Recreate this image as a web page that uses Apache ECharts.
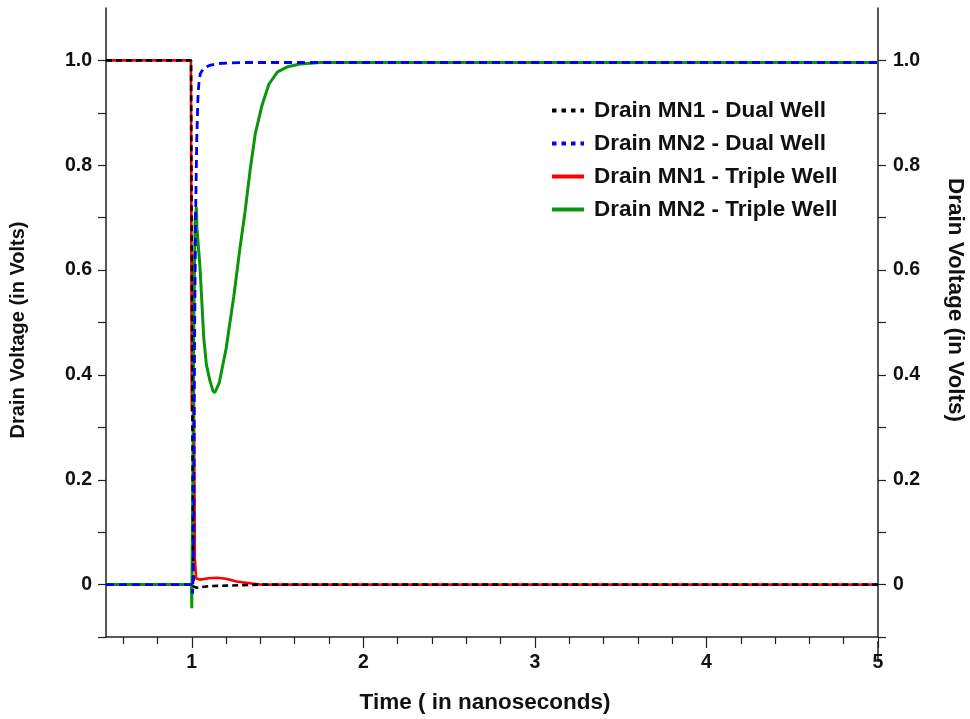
<!DOCTYPE html>
<html>
<head>
<meta charset="utf-8">
<title>Drain Voltage Transient</title>
<script src="https://cdn.jsdelivr.net/npm/echarts@6/dist/echarts.min.js"></script>
<style>
  html, body { margin: 0; padding: 0; background: #ffffff; }
  #chart { width: 970px; height: 719px; }
</style>
</head>
<body>
<div id="chart"></div>
<script>
// Transient drain voltages (time in ns, voltage in V)
const timeMN1Dual = [0.5, 0.996, 1.0, 1.008, 1.012, 1.03, 1.1, 1.2, 1.3, 1.4, 5.0];
const voltMN1Dual = [1.0, 1.0, 0.55, 0.03, -0.004, -0.006, -0.003, -0.002, -0.001, 0, 0];

const timeMN2Dual = [0.5, 0.998, 1.005, 1.012, 1.016, 1.022, 1.029, 1.036, 1.041, 1.05, 1.07, 1.1, 1.15, 1.3, 5.0];
const voltMN2Dual = [0, 0, -0.017, 0.1, 0.45, 0.7, 0.85, 0.93, 0.955, 0.975, 0.985, 0.99, 0.994, 0.996, 0.996];

const timeMN1Triple = [0.5, 0.995, 0.998, 1.0, 1.004, 1.008, 1.012, 1.018, 1.025, 1.047, 1.1, 1.146, 1.2, 1.26, 1.35, 1.4, 5.0];
const voltMN1Triple = [1.0, 1.0, 0.6, 0.33, 0.5, 0.63, 0.4, 0.05, 0.012, 0.0095, 0.012, 0.013, 0.011, 0.006, 0.002, 0, 0];

const timeMN2Triple = [0.5, 0.998, 1.0, 1.006, 1.012, 1.02, 1.027, 1.03, 1.047, 1.057, 1.07, 1.085, 1.105, 1.123, 1.134,
  1.16, 1.2, 1.245, 1.28, 1.31, 1.34, 1.37, 1.41, 1.45, 1.5, 1.56, 1.63, 1.75, 5.0];
const voltMN2Triple = [0, 0, -0.045, 0.2, 0.5, 0.7, 0.72, 0.68, 0.61, 0.55, 0.47, 0.42, 0.39, 0.37, 0.366,
  0.385, 0.45, 0.55, 0.64, 0.71, 0.79, 0.86, 0.915, 0.955, 0.978, 0.988, 0.993, 0.996, 0.996];

const seriesNames = ['Drain MN1 - Dual Well', 'Drain MN2 - Dual Well', 'Drain MN1 - Triple Well', 'Drain MN2 - Triple Well'];

// Axis ticks and labels
const xLabelValues = [1, 2, 3, 4, 5];
const xMajorTicks = [1, 2, 3, 4, 5];
const xMinorTicks = [0.6, 0.8, 1.2, 1.4, 1.6, 1.8, 2.2, 2.4, 2.6, 2.8, 3.2, 3.4, 3.6, 3.8, 4.2, 4.4, 4.6, 4.8];
const yLabelValues = [0, 0.2, 0.4, 0.6, 0.8, 1.0];
const yTickValues = [-0.1, 0, 0.1, 0.2, 0.3, 0.4, 0.5, 0.6, 0.7, 0.8, 0.9, 1.0];

const zip = (xs, ys) => xs.map((x, i) => [x, ys[i]]);

const FONT = '"Liberation Sans", Arial, sans-serif';
const AXIS_COLOR = '#222';
const TEXT_COLOR = '#111';

const yLabelFmt = v => (Math.abs(v) < 1e-9 ? '0' : v.toFixed(1));

const chart = echarts.init(document.getElementById('chart'), null, { renderer: 'canvas' });

const yAxisBase = {
  type: 'value',
  min: -0.1,
  max: 1.1,
  splitLine: { show: false },
  axisLine: { show: true, lineStyle: { color: AXIS_COLOR, width: 1.5 } },
  axisTick: { show: true, customValues: yTickValues, length: 8, lineStyle: { color: AXIS_COLOR, width: 1.2 } },
  axisLabel: {
    customValues: yLabelValues,
    formatter: yLabelFmt,
    color: TEXT_COLOR,
    fontFamily: FONT,
    fontWeight: 'bold',
    fontSize: 19.5
  }
};

// Legend: line icons only, no markers
const legendIconStyle = { opacity: 0, borderWidth: 0 };

chart.setOption({
  animation: false,
  backgroundColor: '#ffffff',
  grid: { left: 106, right: 92, top: 8, bottom: 78, containLabel: false },
  legend: {
    orient: 'vertical',
    left: 550,
    top: 99,
    padding: 0,
    itemWidth: 32,
    itemHeight: 14,
    itemGap: 10,
    textStyle: { color: TEXT_COLOR, fontFamily: FONT, fontWeight: 'bold', fontSize: 22.5, lineHeight: 22, padding: [0, 0, 0, 5] },
    data: [
      { name: seriesNames[0], itemStyle: legendIconStyle, lineStyle: { color: '#000000', width: 4, type: [4.5, 5], cap: 'butt' } },
      { name: seriesNames[1], itemStyle: legendIconStyle, lineStyle: { color: '#0000ff', width: 4, type: [4.5, 5], cap: 'butt' } },
      { name: seriesNames[2], itemStyle: legendIconStyle, lineStyle: { color: '#ff0000', width: 4, type: 'solid' } },
      { name: seriesNames[3], itemStyle: legendIconStyle, lineStyle: { color: '#0a960a', width: 4, type: 'solid' } }
    ]
  },
  xAxis: [
    {
      type: 'value',
      min: 0.5,
      max: 5,
      position: 'bottom',
      splitLine: { show: false },
      axisLine: { show: true, onZero: false, lineStyle: { color: AXIS_COLOR, width: 1.5 } },
      axisTick: { show: true, customValues: xMajorTicks, length: 11, lineStyle: { color: AXIS_COLOR, width: 1.2 } },
      axisLabel: {
        customValues: xLabelValues,
        margin: 16,
        color: TEXT_COLOR,
        fontFamily: FONT,
        fontWeight: 'bold',
        fontSize: 19.5
      },
      name: 'Time ( in nanoseconds)',
      nameLocation: 'middle',
      nameGap: 54,
      nameTextStyle: { color: TEXT_COLOR, fontFamily: FONT, fontWeight: 'bold', fontSize: 22.5, padding: [0, 14, 0, 0] }
    },
    {
      type: 'value',
      min: 0.5,
      max: 5,
      position: 'bottom',
      splitLine: { show: false },
      axisLine: { show: false, onZero: false },
      axisTick: { show: true, customValues: xMinorTicks, length: 7, lineStyle: { color: AXIS_COLOR, width: 1.2 } },
      axisLabel: { show: false }
    }
  ],
  yAxis: [
    Object.assign({}, yAxisBase, {
      position: 'left',
      axisLabel: Object.assign({}, yAxisBase.axisLabel, { margin: 14 })
    }),
    Object.assign({}, yAxisBase, {
      position: 'right',
      axisLabel: Object.assign({}, yAxisBase.axisLabel, { margin: 15 })
    })
  ],
  graphic: [
    {
      type: 'text',
      x: 18,
      y: 330,
      rotation: Math.PI / 2,
      style: {
        text: 'Drain Voltage (in Volts)',
        fill: TEXT_COLOR,
        font: 'bold 20px ' + FONT,
        align: 'center',
        verticalAlign: 'middle'
      }
    },
    {
      type: 'text',
      x: 955,
      y: 300,
      rotation: -Math.PI / 2,
      style: {
        text: 'Drain Voltage (in Volts)',
        fill: TEXT_COLOR,
        font: 'bold 22.5px ' + FONT,
        align: 'center',
        verticalAlign: 'middle'
      }
    },
    {
      // right axis line runs a little past the time axis
      type: 'line',
      shape: { x1: 878, y1: 641, x2: 878, y2: 662 },
      style: { stroke: AXIS_COLOR, lineWidth: 1.5 }
    }
  ],
  series: [
    {
      name: seriesNames[0], type: 'line', xAxisIndex: 0, yAxisIndex: 0, z: 4,
      showSymbol: false, symbol: 'none',
      lineStyle: { color: '#000000', width: 2.6, type: [6, 4] },
      itemStyle: { color: '#000000' },
      data: zip(timeMN1Dual, voltMN1Dual)
    },
    {
      name: seriesNames[1], type: 'line', xAxisIndex: 0, yAxisIndex: 0, z: 4,
      showSymbol: false, symbol: 'none',
      lineStyle: { color: '#0000ff', width: 2.8, type: [8, 5] },
      itemStyle: { color: '#0000ff' },
      data: zip(timeMN2Dual, voltMN2Dual)
    },
    {
      name: seriesNames[2], type: 'line', xAxisIndex: 0, yAxisIndex: 0, z: 2,
      showSymbol: false, symbol: 'none',
      lineStyle: { color: '#ff0000', width: 2.6 },
      itemStyle: { color: '#ff0000' },
      data: zip(timeMN1Triple, voltMN1Triple)
    },
    {
      name: seriesNames[3], type: 'line', xAxisIndex: 0, yAxisIndex: 0, z: 2,
      showSymbol: false, symbol: 'none',
      lineStyle: { color: '#0a960a', width: 3 },
      itemStyle: { color: '#0a960a' },
      data: zip(timeMN2Triple, voltMN2Triple)
    }
  ]
});
</script>
</body>
</html>
